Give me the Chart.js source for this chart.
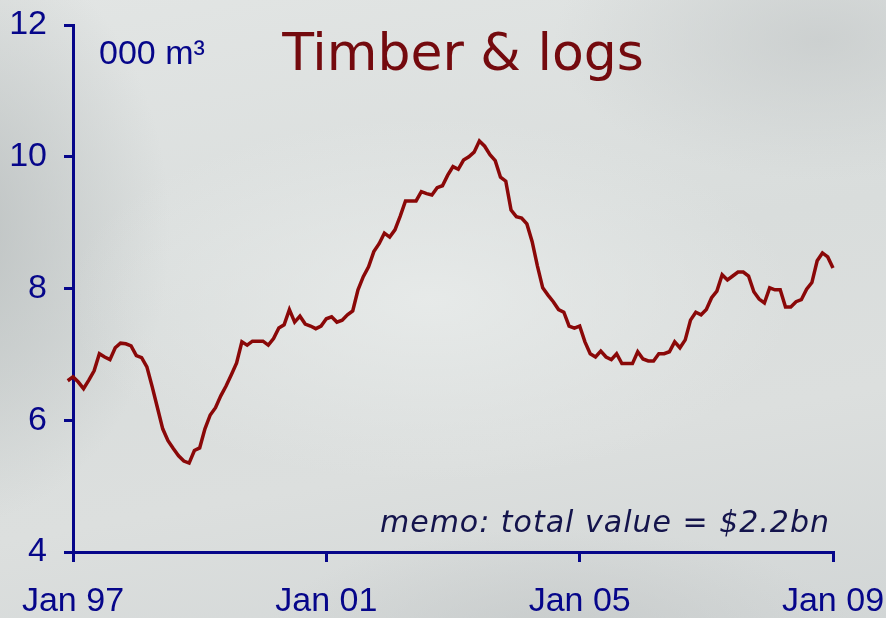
<!DOCTYPE html>
<html>
<head>
<meta charset="utf-8">
<script src="https://cdn.jsdelivr.net/npm/chart.js@4.4.0/dist/chart.umd.min.js"></script>
<style>
  html, body { margin: 0; padding: 0; }
  body {
    width: 886px; height: 618px; overflow: hidden;
    background:
      radial-gradient(ellipse 520px 260px at 430px 300px, rgba(232,235,234,0.9), rgba(232,235,234,0) 70%),
      radial-gradient(ellipse 300px 420px at -40px 230px, rgba(186,191,191,0.9), rgba(186,191,191,0) 70%),
      radial-gradient(ellipse 380px 200px at 820px 40px, rgba(200,204,204,0.8), rgba(200,204,204,0) 70%),
      radial-gradient(ellipse 420px 160px at 560px 640px, rgba(196,200,200,0.8), rgba(196,200,200,0) 70%),
      linear-gradient(170deg, #e2e5e4 0%, #d9dddc 45%, #dcdfde 70%, #d2d6d6 100%);
  }
  canvas { display: block; }
</style>
</head>
<body>
<canvas id="chart" width="886" height="618"></canvas>
<script>
// monthly volume, 000 m3, first point is Nov 96 (month -2 from Jan 97)
const firstMonth = -2;
const volume = [
  6.67, 6.60,
  6.66, 6.58, 6.48, 6.61, 6.75, 7.01, 6.96, 6.92, 7.10, 7.17, 7.16, 7.13,
  6.98, 6.95, 6.81, 6.51, 6.19, 5.87, 5.69, 5.57, 5.46, 5.38, 5.35, 5.54,
  5.58, 5.87, 6.08, 6.19, 6.37, 6.52, 6.69, 6.87, 7.19, 7.14, 7.20, 7.20,
  7.20, 7.14, 7.24, 7.40, 7.45, 7.68, 7.49, 7.58, 7.46, 7.43, 7.39, 7.43,
  7.54, 7.57, 7.49, 7.52, 7.60, 7.66, 7.98, 8.18, 8.33, 8.56, 8.68, 8.84,
  8.78, 8.89, 9.10, 9.33, 9.33, 9.33, 9.47, 9.44, 9.42, 9.53, 9.56, 9.72,
  9.85, 9.81, 9.95, 10.00, 10.07, 10.24, 10.16, 10.03, 9.94, 9.69, 9.63, 9.19,
  9.09, 9.07, 8.98, 8.71, 8.34, 8.01, 7.90, 7.80, 7.68, 7.64, 7.43, 7.40,
  7.43, 7.19, 7.01, 6.96, 7.05, 6.96, 6.92, 7.01, 6.86, 6.86, 6.86, 7.04,
  6.93, 6.90, 6.90, 7.01, 7.01, 7.04, 7.19, 7.10, 7.22, 7.52, 7.64, 7.60,
  7.68, 7.86, 7.96, 8.21, 8.13, 8.19, 8.25, 8.25, 8.19, 7.95, 7.84, 7.78,
  8.01, 7.98, 7.98, 7.72, 7.72, 7.80, 7.83, 7.99, 8.09, 8.42, 8.54, 8.48,
  8.31
];
const tickMonths = [0, 48, 96, 144];
const tickLabels = ["Jan 97", "Jan 01", "Jan 05", "Jan 09"];
const yTicks = [4, 6, 8, 10, 12];

const navy = "#06068a";
const lineRed = "#8a0808";

const textPlugin = {
  id: "texts",
  afterDraw(chart) {
    const ctx = chart.ctx;
    ctx.save();
    ctx.fillStyle = "#740a0e";
    ctx.font = "52px 'DejaVu Sans'";
    ctx.textAlign = "center";
    ctx.textBaseline = "alphabetic";
    ctx.fillText("Timber & logs", 463, 70);

    ctx.fillStyle = navy;
    ctx.font = "34px 'Liberation Sans', Arial";
    ctx.textAlign = "left";
    ctx.fillText("000 m³", 99, 64);

    ctx.fillStyle = "#14144c";
    ctx.font = "italic 30px 'DejaVu Sans'";
    ctx.letterSpacing = "1px";
    ctx.textAlign = "right";
    ctx.fillText("memo: total value = $2.2bn", 830, 532);
    ctx.restore();
  }
};

new Chart(document.getElementById("chart").getContext("2d"), {
  type: "line",
  data: {
    datasets: [{
      data: volume.map((v, i) => ({ x: firstMonth + i, y: v })),
      borderColor: lineRed,
      borderWidth: 3.5,
      pointRadius: 0,
      tension: 0,
      clip: false
    }]
  },
  options: {
    responsive: false,
    animation: false,
    devicePixelRatio: 1,
    layout: { padding: { top: 25, right: 53, left: 0, bottom: 0 } },
    plugins: { legend: { display: false }, tooltip: { enabled: false } },
    scales: {
      x: {
        type: "linear",
        min: 0,
        max: 144,
        afterBuildTicks: (scale) => { scale.ticks = tickMonths.map((m) => ({ value: m })); },
        afterFit: (scale) => {
          scale.height = 66;
          scale.paddingLeft = 0;
          scale.paddingRight = 0;
        },
        ticks: {
          color: navy,
          font: { family: "'Liberation Sans', Arial", size: 34 },
          padding: 19,
          maxRotation: 0,
          autoSkip: false,
          callback: (value) => tickLabels[tickMonths.indexOf(value)]
        },
        grid: { drawOnChartArea: false, drawTicks: true, tickLength: 10, color: navy, lineWidth: 3 },
        border: { color: navy, width: 3 }
      },
      y: {
        min: 4,
        max: 12,
        afterBuildTicks: (scale) => { scale.ticks = yTicks.map((v) => ({ value: v })); },
        afterFit: (scale) => {
          scale.width = 73;
          scale.paddingTop = 0;
          scale.paddingBottom = 0;
        },
        ticks: {
          color: navy,
          font: { family: "'Liberation Sans', Arial", size: 34 },
          padding: 17,
          autoSkip: false
        },
        grid: { drawOnChartArea: false, drawTicks: true, tickLength: 9, color: navy, lineWidth: 3 },
        border: { color: navy, width: 3 }
      }
    }
  },
  plugins: [textPlugin]
});
</script>
</body>
</html>
